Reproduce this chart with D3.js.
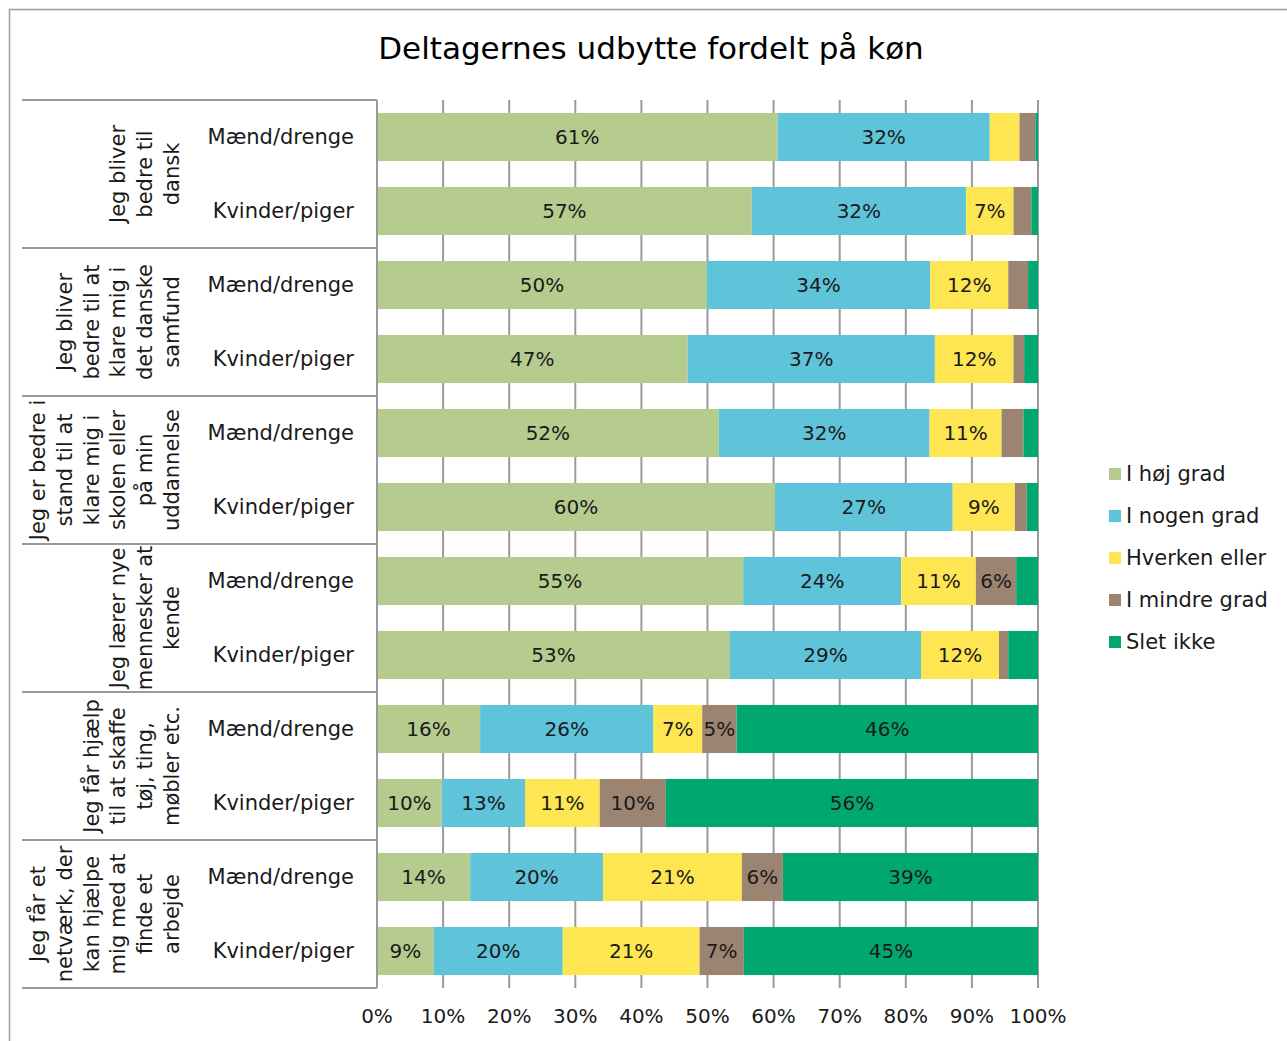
<!DOCTYPE html>
<html>
<head>
<meta charset="utf-8">
<script src="https://cdn.jsdelivr.net/npm/d3@7"></script>
<style>
  body { margin: 0; background: #fff; }
  text { font-family: "DejaVu Sans", sans-serif; fill: #1a1a1a; }
</style>
</head>
<body>
<div id="chart-area"></div>
<script>
// spoergsmaal (grupper), koen og svarkategorier
var groups = [
    ["Jeg bliver", "bedre til", "dansk"],
    ["Jeg bliver", "bedre til at", "klare mig i", "det danske", "samfund"],
    ["Jeg er bedre i", "stand til at", "klare mig i", "skolen eller", "på min", "uddannelse"],
    ["Jeg lærer nye", "mennesker at", "kende"],
    ["Jeg får hjælp", "til at skaffe", "tøj, ting,", "møbler etc."],
    ["Jeg får et", "netværk, der", "kan hjælpe", "mig med at", "finde et", "arbejde"]
];
var genders = ["Mænd/drenge", "Kvinder/piger"];
var series = ["I høj grad", "I nogen grad", "Hverken eller", "I mindre grad", "Slet ikke"];
var colors = ["#b6cc8f", "#5fc3da", "#fee552", "#9c8472", "#00a86f"];
var xTicks = [0, 10, 20, 30, 40, 50, 60, 70, 80, 90, 100];

// en raekke pr. gruppe/koen, vaerdier i procent (i samme raekkefolge som series)
var hoejGrad   = [60.6, 56.7, 49.9, 47.0, 51.7, 60.2, 55.4, 53.4, 15.6,  9.8, 14.1,  8.6];
var nogenGrad  = [32.1, 32.4, 33.8, 37.4, 31.9, 26.9, 23.9, 28.9, 26.2, 12.6, 20.1, 19.5];
var hverken    = [ 4.5,  7.2, 11.8, 11.9, 10.9,  9.4, 11.3, 11.8,  7.4, 11.3, 21.0, 20.7];
var mindreGrad = [ 2.4,  2.7,  3.0,  1.6,  3.3,  1.8,  6.1,  1.4,  5.2, 10.0,  6.2,  6.7];
var sletIkke   = [ 0.4,  1.0,  1.5,  2.1,  2.2,  1.7,  3.3,  4.5, 45.6, 56.3, 38.6, 44.5];

var W = 1287, H = 1041;
var pLeft = 377, pRight = 1038, pTop = 100, pBottom = 988;

var rows = [];
groups.forEach(function(g, gi) {
    genders.forEach(function(s, si) {
        var i = gi * 2 + si;
        var r = { id: i, gender: s };
        r[series[0]] = hoejGrad[i];
        r[series[1]] = nogenGrad[i];
        r[series[2]] = hverken[i];
        r[series[3]] = mindreGrad[i];
        r[series[4]] = sletIkke[i];
        rows.push(r);
    });
});

var svg = d3.select("#chart-area")
    .append("svg")
    .attr("width", W)
    .attr("height", H);

// ramme
svg.append("rect")
    .attr("x", 9.5).attr("y", 9.5)
    .attr("width", W + 10).attr("height", H + 10)
    .attr("fill", "none").attr("stroke", "#9a9a9a").attr("stroke-width", 1.5);

svg.append("text")
    .attr("x", 651).attr("y", 59)
    .attr("text-anchor", "middle")
    .style("font-size", "31px")
    .style("fill", "#000")
    .text("Deltagernes udbytte fordelt på køn");

var x = d3.scaleLinear().domain([0, 100]).range([pLeft, pRight]);
var y = d3.scaleBand()
    .domain(rows.map(d => d.id))
    .range([pTop, pBottom])
    .paddingInner(0.35)
    .paddingOuter(0.175);
var color = d3.scaleOrdinal().domain(series).range(colors);

// gitterlinjer
svg.append("g")
    .selectAll("line")
    .data(xTicks)
    .enter()
    .append("line")
    .attr("x1", d => x(d)).attr("x2", d => x(d))
    .attr("y1", pTop).attr("y2", pBottom)
    .attr("stroke", "#9a9a9a").attr("stroke-width", 2);

var stacked = d3.stack().keys(series)(rows);

var layers = svg.append("g")
    .selectAll("g")
    .data(stacked)
    .enter()
    .append("g")
    .attr("fill", d => color(d.key));

layers.selectAll("rect")
    .data(d => d)
    .enter()
    .append("rect")
    .attr("x", d => x(d[0]))
    .attr("y", d => y(d.data.id))
    .attr("width", d => x(d[1]) - x(d[0]))
    .attr("height", y.bandwidth());

// procent-etiketter
layers.selectAll("text")
    .data(d => d.filter(p => p[1] - p[0] >= 5))
    .enter()
    .append("text")
    .attr("x", d => (x(d[0]) + x(d[1])) / 2)
    .attr("y", d => y(d.data.id) + y.bandwidth() / 2)
    .attr("text-anchor", "middle")
    .attr("dominant-baseline", "central")
    .style("font-size", "20px")
    .text(d => Math.round(d[1] - d[0]) + "%");

// kategori-akse
var step = (pBottom - pTop) / groups.length;
svg.append("g")
    .selectAll("line")
    .data(d3.range(groups.length + 1))
    .enter()
    .append("line")
    .attr("x1", 22).attr("x2", pLeft)
    .attr("y1", d => pTop + d * step).attr("y2", d => pTop + d * step)
    .attr("stroke", "#9a9a9a").attr("stroke-width", 2);

svg.append("line")
    .attr("x1", pLeft).attr("x2", pLeft)
    .attr("y1", pTop).attr("y2", pBottom)
    .attr("stroke", "#9a9a9a").attr("stroke-width", 2);

svg.append("g")
    .selectAll("text")
    .data(rows)
    .enter()
    .append("text")
    .attr("x", 354)
    .attr("y", d => y(d.id) + y.bandwidth() / 2)
    .attr("text-anchor", "end")
    .attr("dominant-baseline", "central")
    .style("font-size", "21px")
    .text(d => d.gender);

var gLabels = svg.append("g")
    .selectAll("g")
    .data(groups)
    .enter()
    .append("g")
    .attr("transform", (d, i) => "translate(0," + (pTop + (i + 0.5) * step) + ")");

gLabels.selectAll("text")
    .data(d => d.map((t, i) => ({ t: t, i: i, n: d.length })))
    .enter()
    .append("text")
    .attr("transform", d => "translate(" + (172 - (d.n - 1 - d.i) * 26.8) + ",0) rotate(-90)")
    .attr("text-anchor", "middle")
    .attr("dominant-baseline", "central")
    .style("font-size", "21px")
    .text(d => d.t);

// x-akse etiketter
svg.append("g")
    .selectAll("text")
    .data(xTicks)
    .enter()
    .append("text")
    .attr("x", d => x(d))
    .attr("y", 1016)
    .attr("text-anchor", "middle")
    .attr("dominant-baseline", "central")
    .style("font-size", "20px")
    .text(d => d + "%");

// legende
var legend = svg.append("g")
    .selectAll("g")
    .data(series)
    .enter()
    .append("g")
    .attr("transform", (d, i) => "translate(1109," + (474 + i * 42) + ")");

legend.append("rect")
    .attr("x", 0).attr("y", -6)
    .attr("width", 12).attr("height", 12)
    .attr("fill", d => color(d));

legend.append("text")
    .attr("x", 17).attr("y", 0)
    .attr("dominant-baseline", "central")
    .style("font-size", "21px")
    .text(d => d);
</script>
</body>
</html>
